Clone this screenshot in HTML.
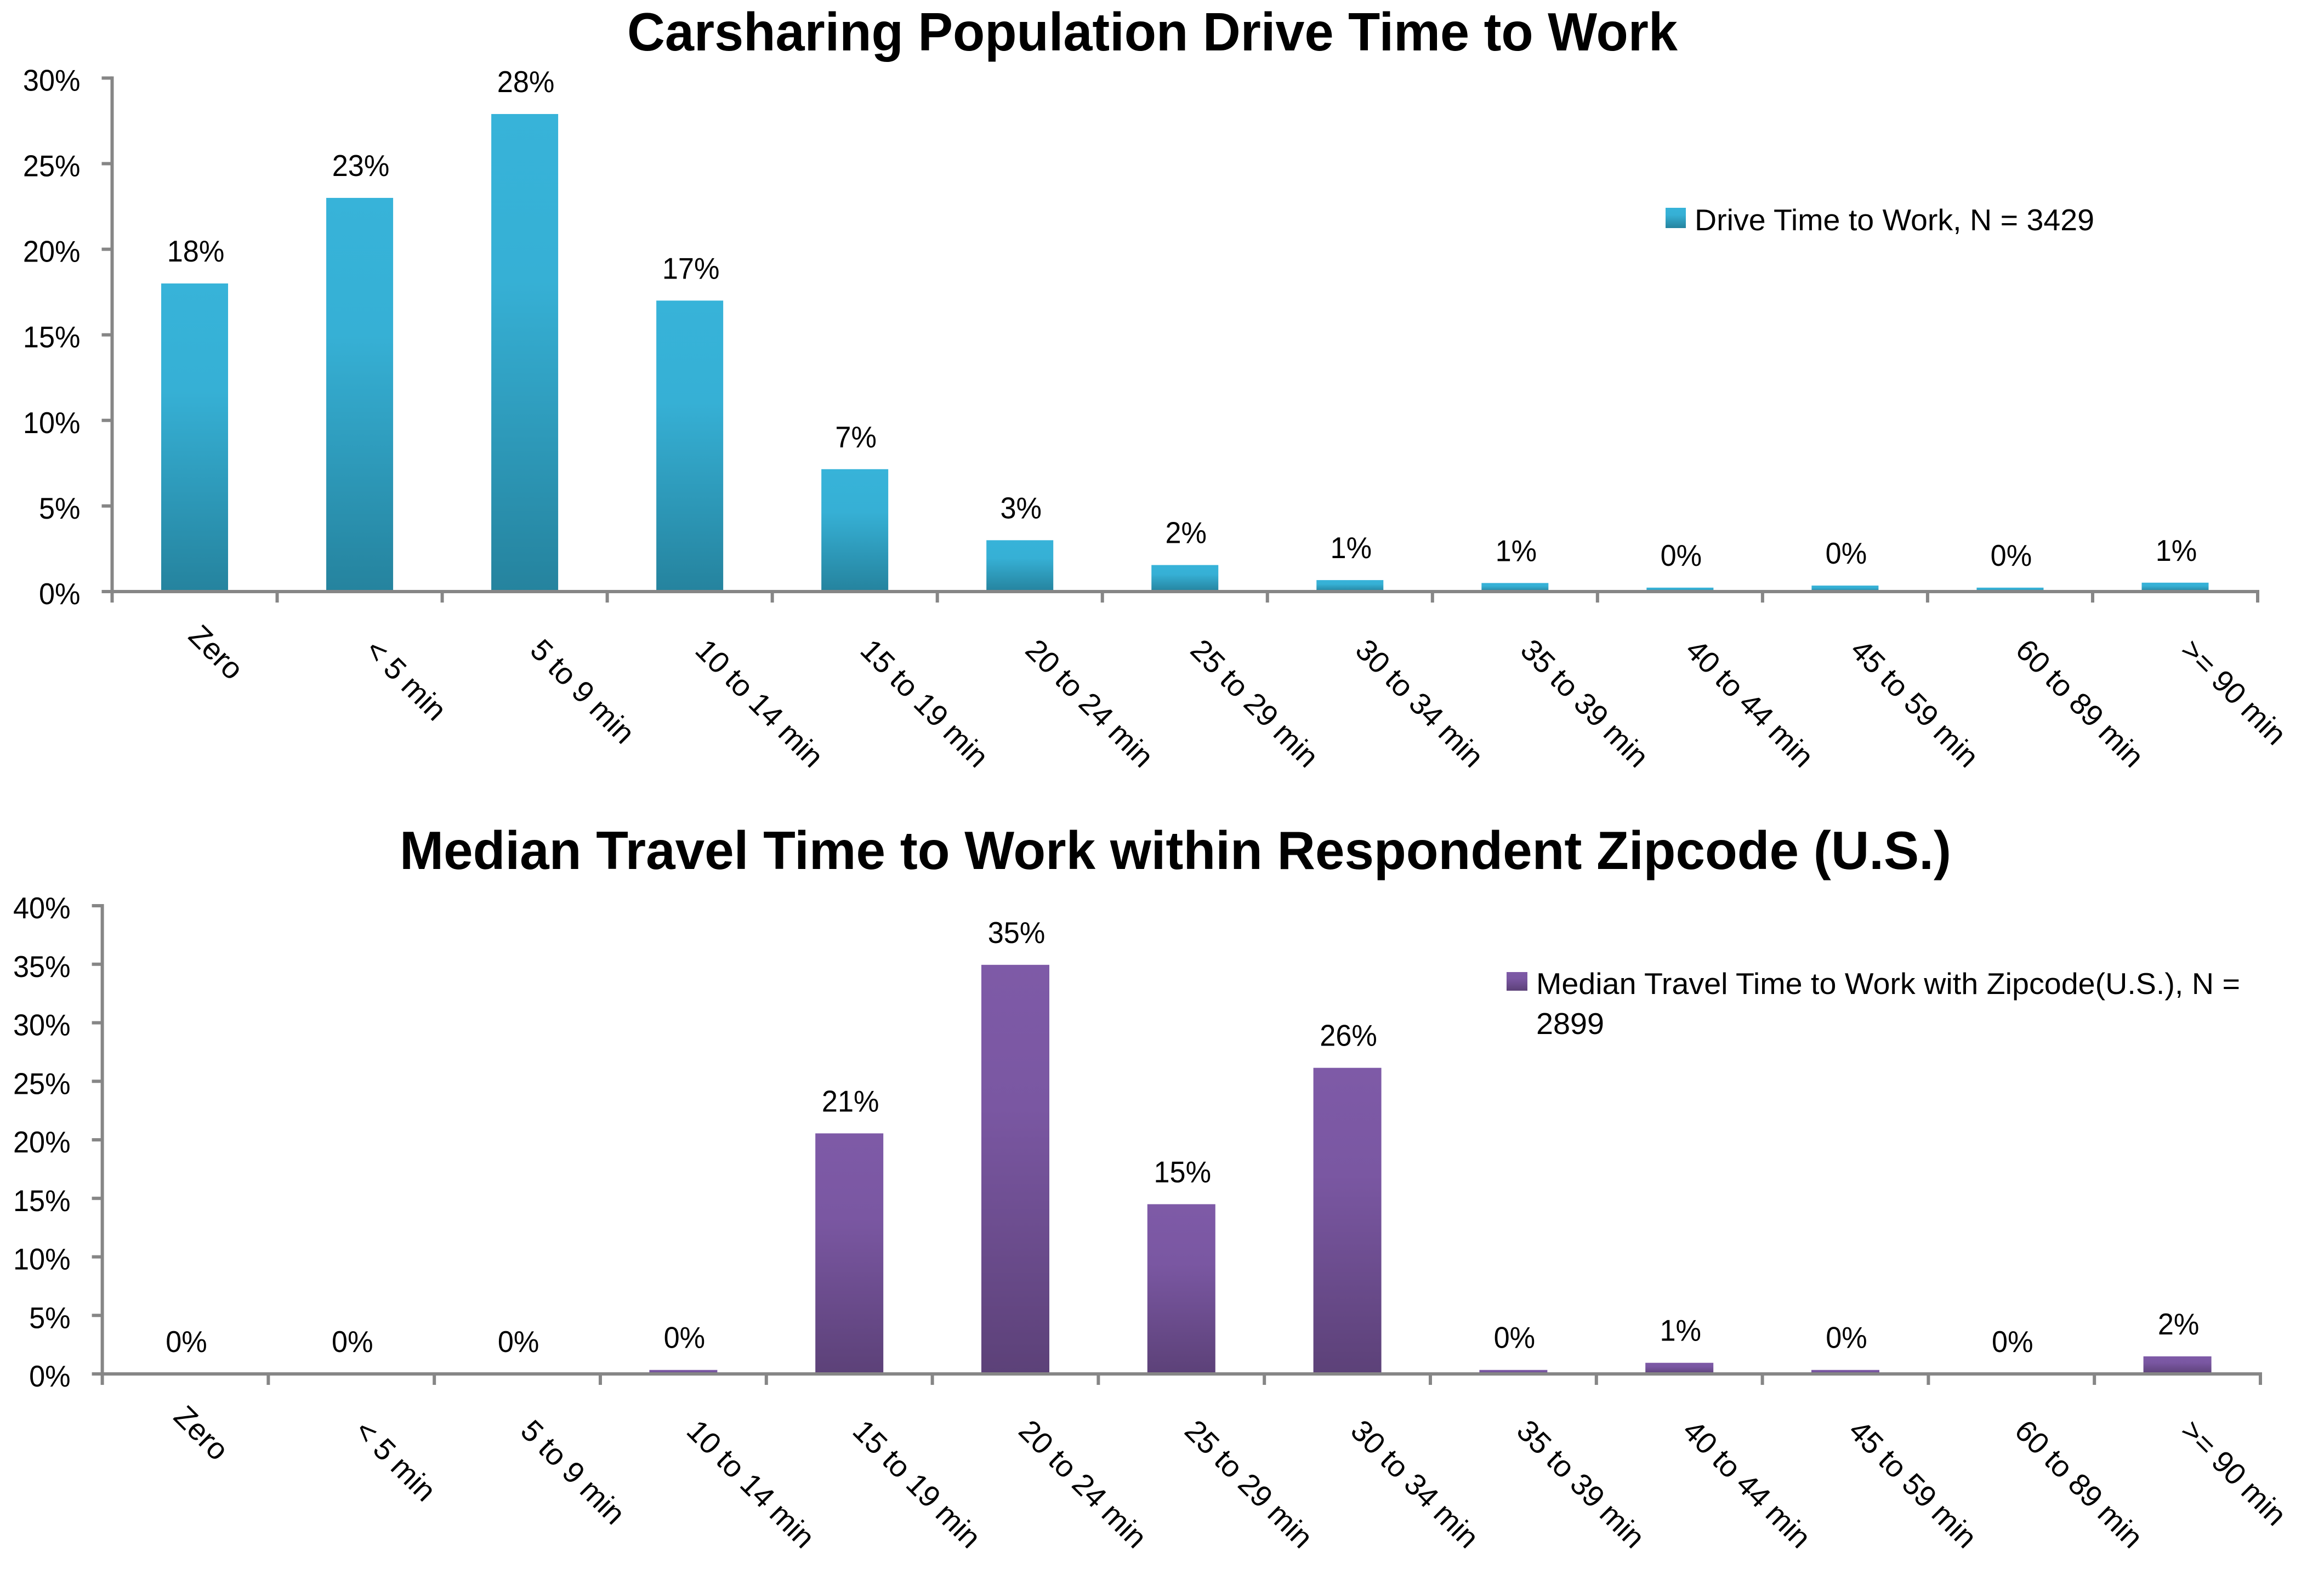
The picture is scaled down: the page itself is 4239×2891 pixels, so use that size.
<!DOCTYPE html>
<html lang="en">
<head>
<meta charset="utf-8">
<title>Carsharing Population Drive Time to Work</title>
<style>
html,body{margin:0;padding:0;background:#fff;}
svg{display:block;font-family:"Liberation Sans",sans-serif;}
</style>
</head>
<body>
<svg id="figure" xmlns="http://www.w3.org/2000/svg" width="4239" height="2891" viewBox="0 0 4239 2891">
  <defs>
    <linearGradient id="teal" x1="0" y1="0" x2="0" y2="1">
      <stop offset="0" stop-color="#37b3d9"/><stop offset="0.35" stop-color="#36b0d5"/><stop offset="1" stop-color="#25839e"/>
    </linearGradient>
    <linearGradient id="purple" x1="0" y1="0" x2="0" y2="1">
      <stop offset="0" stop-color="#7e5aa7"/><stop offset="0.35" stop-color="#7a57a2"/><stop offset="1" stop-color="#5c4178"/>
    </linearGradient>
  </defs>
  <rect width="4239" height="2891" fill="#fff"/>
  <text x="1144" y="92" font-size="98" font-weight="bold" textLength="1916" lengthAdjust="spacingAndGlyphs">Carsharing Population Drive Time to Work</text>
  <text x="729" y="1585" font-size="98" font-weight="bold" textLength="2830" lengthAdjust="spacingAndGlyphs">Median Travel Time to Work within Respondent Zipcode (U.S.)</text>

  <g>
    <rect x="3038" y="379" width="37" height="37" fill="url(#teal)"/>
    <text x="3091" y="420" font-size="55" textLength="729" lengthAdjust="spacingAndGlyphs">Drive Time to Work, N = 3429</text>
  </g>
  <g>
    <rect x="2748" y="1773" width="38" height="34" fill="url(#purple)"/>
    <text x="2802" y="1813" font-size="55" textLength="1284" lengthAdjust="spacingAndGlyphs">Median Travel Time to Work with Zipcode(U.S.), N =</text>
    <text x="2802" y="1886" font-size="55" textLength="124" lengthAdjust="spacingAndGlyphs">2899</text>
  </g>
</svg>
<script>
const categories = ['Zero','< 5 min','5 to 9 min','10 to 14 min','15 to 19 min','20 to 24 min','25 to 29 min','30 to 34 min','35 to 39 min','40 to 44 min','45 to 59 min','60 to 89 min','>= 90 min'];
const driveTimeValues = [18.0,23.0,27.9,17.0,7.15,3.0,1.55,0.67,0.5,0.23,0.35,0.23,0.52];
const travelTimeValues = [0,0,0,0.34,20.55,34.95,14.5,26.15,0.34,0.95,0.34,0,1.5];
const driveTimeTicks = [0,5,10,15,20,25,30];
const travelTimeTicks = [0,5,10,15,20,25,30,35,40];

const svgNS = 'http://www.w3.org/2000/svg';
const figure = document.getElementById('figure');

function make(tag, parent) {
  const el = document.createElementNS(svgNS, tag);
  parent.appendChild(el);
  return el;
}
function line(parent, x1, y1, x2, y2) {
  const l = make('line', parent);
  l.setAttribute('x1', x1);
  l.setAttribute('y1', y1);
  l.setAttribute('x2', x2);
  l.setAttribute('y2', y2);
  l.setAttribute('stroke', '#868686');
  l.setAttribute('stroke-width', 6);
  return l;
}
function squeeze(t) {
  t.setAttribute('font-size', 55);
  t.setAttribute('textLength', t.getComputedTextLength() * 0.95);
  t.setAttribute('lengthAdjust', 'spacingAndGlyphs');
}

function drawChart(values, ticks, g) {
  const group = make('g', figure);
  
  

  const maxTick = Math.max(...ticks);
  const yScale = v => g.y0 - (v / maxTick) * (g.y0 - g.yTop);
  const step = (g.xEnd - g.x0) / categories.length;
  const xScale = i => g.x0 + step * (i + 0.5);

  values.forEach((v, i) => {
    const top = yScale(v);
    if (v > 0) {
      const bar = make('rect', group);
      
      
      bar.setAttribute('x', xScale(i) - g.barW / 2);
      bar.setAttribute('y', top);
      bar.setAttribute('width', g.barW);
      bar.setAttribute('height', g.y0 - top);
      bar.setAttribute('fill', g.fill);
    }
    const val = make('text', group);
    
    
    val.setAttribute('x', xScale(i) + 2);
    val.setAttribute('y', top - 58 + 18);
    val.setAttribute('text-anchor', 'middle');
    val.textContent = Math.round(v) + '%';
    squeeze(val);
  });

  const yAxis = line(group, g.x0, g.yTop - 3, g.x0, g.y0 + 3);
  
  
  const xAxis = line(group, g.x0 - 3, g.y0, g.xEnd + 3, g.y0);
  
  

  ticks.forEach(t => {
    const y = yScale(t);
    const tk = line(group, g.x0 - 19, y, g.x0, y);
    
    
    const lb = make('text', group);
    
    
    lb.setAttribute('x', g.x0 - 58);
    lb.setAttribute('y', y + 23);
    lb.setAttribute('text-anchor', 'end');
    lb.textContent = t + '%';
    squeeze(lb);
  });

  for (let i = 0; i <= categories.length; i++) {
    const tx = g.x0 + step * i;
    const tk = line(group, tx, g.y0, tx, g.y0 + 20);
    
    
  }

  categories.forEach((c, i) => {
    const isShort = c === 'Zero';
    const sx = xScale(i) + (isShort ? g.shortDx : g.labelDx);
    const sy = g.y0 + (isShort ? g.shortDy : g.labelDy);
    const lb = make('text', group);
    
    
    lb.setAttribute('x', sx);
    lb.setAttribute('y', sy);
    lb.setAttribute('font-size', 55);
    lb.setAttribute('transform', 'rotate(45 ' + sx + ' ' + sy + ')');
    lb.textContent = c;
  });
}

drawChart(driveTimeValues, driveTimeTicks, {
  name: 'drive-time', x0: 204.5, xEnd: 4118, y0: 1079, yTop: 142.4, barW: 122, fill: 'url(#teal)',
  labelDx: 7, labelDy: 110, shortDx: -14, shortDy: 84
});
drawChart(travelTimeValues, travelTimeTicks, {
  name: 'travel-time', x0: 186.6, xEnd: 4123, y0: 2506, yTop: 1652, barW: 124, fill: 'url(#purple)',
  labelDx: 3, labelDy: 107, shortDx: -24, shortDy: 81
});
</script>
</body>
</html>
